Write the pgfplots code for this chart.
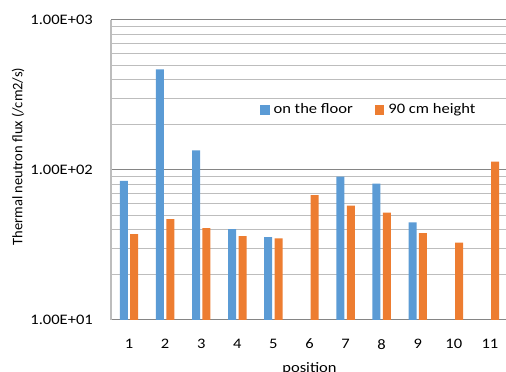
\documentclass[border=0pt]{standalone}
\usepackage{fontspec}
\setmainfont{Carlito}[FakeStretch=1.14]
\newfontfamily\ylabfont{Carlito}
\usepackage{pgfplots}
\pgfplotsset{compat=1.18}
\definecolor{cblue}{HTML}{5B9BD5}
\definecolor{corange}{HTML}{ED7D31}
\definecolor{majgrid}{HTML}{858585}
\definecolor{mingrid}{HTML}{BDBDBD}
\pgfplotsset{sqlegend/.style={legend image code/.code={\fill[##1,draw=none] (0pt,-4.8pt) rectangle (9.6pt,4.8pt);}}}
\begin{document}
\fontsize{14.5pt}{17pt}\selectfont
\begin{tikzpicture}
\useasboundingbox (-111pt,-52pt) rectangle (395pt,320pt);
\begin{axis}[
  at={(0pt,0pt)}, anchor=south west,
  scale only axis, width=397pt, height=300pt,
  ymode=log, ymin=10, ymax=1000, log origin y=infty,
  xmin=0.5, xmax=11.5,
  xtick={1,2,3,4,5,6,7,8,9,10,11},
  ytick={10,100,1000}, yticklabels={1.00E+01,1.00E+02,1.00E+03},
  minor ytick={20,30,40,50,60,70,80,90,200,300,400,500,600,700,800,900},
  ybar=2.4pt, bar width=8pt,
  ymajorgrids, yminorgrids,
  major grid style={majgrid, line width=1pt},
  minor grid style={mingrid, line width=1pt},
  axis x line*=bottom, axis y line*=left,
  x axis line style={majgrid, line width=1pt, -},
  y axis line style={mingrid, line width=1.2pt, -},
  major tick length=0pt, minor tick length=0pt,
  tick style={draw=none},
  /pgf/number format/assume math mode=true,
  xticklabel style={inner sep=0pt, anchor=north, yshift=-19pt},
  yticklabel style={inner sep=0pt, anchor=east, xshift=-18pt},
  xlabel={position}, ylabel={Thermal neutron flux (/cm2/s)},
  xlabel style={at={(axis description cs:0.5,0)}, anchor=north, yshift=-42.5pt, inner sep=0pt},
  ylabel style={at={(axis description cs:-0.2343,0.545)}, anchor=center, inner sep=0pt, font=\ylabfont},
  legend columns=2,
  legend style={at={(axis description cs:0.3753,0.7)}, anchor=west, draw=none, fill=none,
    inner sep=0pt, outer sep=0pt, nodes={inner sep=0pt},
    /tikz/every odd column/.append style={column sep=4pt},
    /tikz/every even column/.append style={column sep=22pt}},
  legend cell align=left,
]
\addplot[fill=cblue, draw=none, sqlegend] coordinates {
  (1,84.5) (2,469) (3,135) (4,40.4) (5,35.7) (7,90.3) (8,81.1) (9,44.8)
};
\addlegendentry{on the floor}
\addplot[fill=corange, draw=none, sqlegend] coordinates {
  (1,37.4) (2,47.1) (3,41.0) (4,36.3) (5,35.0) (6,68.1) (7,57.8) (8,51.9) (9,38.0) (10,32.8) (11,113.7)
};
\addlegendentry{90 cm height}
\end{axis}
\end{tikzpicture}
\end{document}
